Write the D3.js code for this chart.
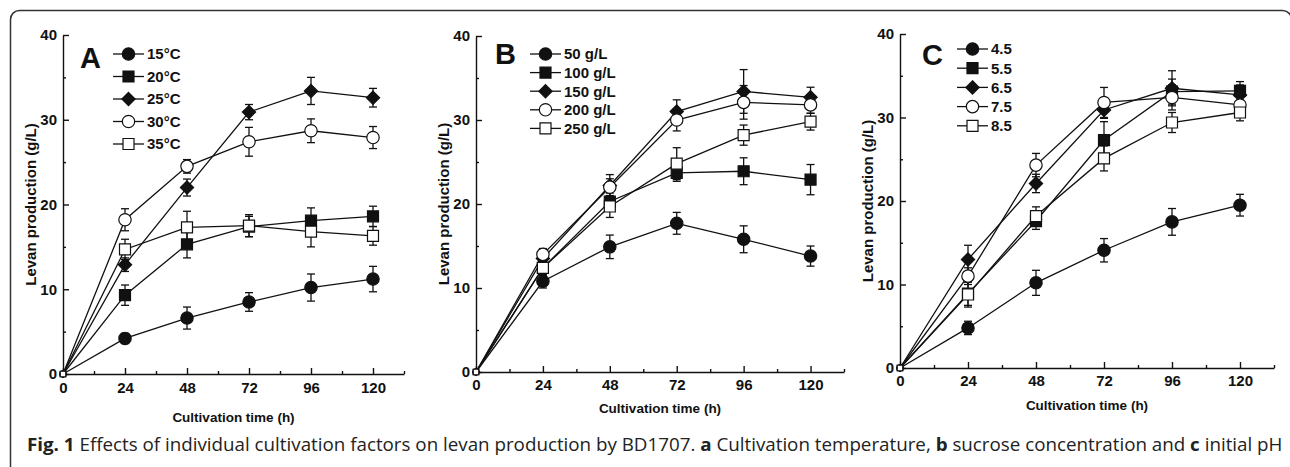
<!DOCTYPE html>
<html>
<head>
<meta charset="utf-8">
<script src="https://cdn.jsdelivr.net/npm/d3@7"></script>
<style>
  body { margin: 0; background: #fff; }
  svg { display: block; }
  .axis path, .axis line { stroke: #111; stroke-width: 1.4px; }
  .axis text { font-family: "Liberation Sans Narrow", "Liberation Sans", Arial, sans-serif; font-weight: bold; font-size: 15px; fill: #111; }
  .title { font-family: "Liberation Sans", Arial, sans-serif; font-weight: bold; font-size: 13.5px; fill: #111; }
  .ytitle { font-size: 15px; }
  .legend text { font-family: "Liberation Sans Narrow", "Liberation Sans", Arial, sans-serif; font-weight: bold; font-size: 15px; fill: #111; }
  .letter { font-family: "Liberation Sans", Arial, sans-serif; font-weight: bold; font-size: 29px; fill: #111; }
  .caption { font-family: "Open Sans", "Noto Sans", sans-serif; font-size: 18px; fill: #222; }
</style>
</head>
<body>
<svg id="fig" width="1290" height="467"></svg>
<script>
// sampling times (h)
const hours = [0, 24, 48, 72, 96, 120];
const xTicks = [0, 24, 48, 72, 96, 120];
const xMinor = [12, 36, 60, 84, 108, 132];
const yTicks = [0, 10, 20, 30, 40];
const yMinor = [5, 15, 25, 35];

// A: cultivation temperature
const tempNames = ["15°C", "20°C", "25°C", "30°C", "35°C"];
const tempMeans = [
  [0, 4.2, 6.6, 8.5, 10.2, 11.2],
  [0, 9.3, 15.3, 17.4, 18.1, 18.6],
  [0, 12.9, 22.0, 30.9, 33.4, 32.6],
  [0, 18.2, 24.5, 27.4, 28.7, 27.9],
  [0, 14.7, 17.3, 17.5, 16.8, 16.3]
];
const tempErr = [
  [0, 0.6, 1.3, 1.1, 1.6, 1.5],
  [0, 1.2, 1.6, 1.2, 1.5, 1.2],
  [0, 0.8, 1.0, 0.9, 1.6, 1.1],
  [0, 1.3, 0.8, 1.7, 1.4, 1.3],
  [0, 1.2, 1.9, 1.3, 1.8, 1.1]
];

// B: sucrose concentration
const sucNames = ["50 g/L", "100 g/L", "150 g/L", "200 g/L", "250 g/L"];
const sucMeans = [
  [0, 10.8, 14.9, 17.7, 15.8, 13.8],
  [0, 12.4, 20.3, 23.7, 23.9, 22.9],
  [0, 13.5, 22.2, 31.0, 33.4, 32.7],
  [0, 14.0, 22.0, 30.0, 32.1, 31.8],
  [0, 12.4, 19.7, 24.8, 28.2, 29.8]
];
const sucErr = [
  [0, 0.8, 1.4, 1.3, 1.6, 1.2],
  [0, 0.9, 1.0, 1.0, 1.6, 1.8],
  [0, 0.8, 1.3, 1.4, 2.6, 1.2],
  [0, 0.7, 1.0, 1.3, 2.0, 1.0],
  [0, 1.4, 1.3, 1.9, 1.2, 1.0]
];

// C: initial pH
const phNames = ["4.5", "5.5", "6.5", "7.5", "8.5"];
const phMeans = [
  [0, 4.8, 10.2, 14.1, 17.5, 19.5],
  [0, 8.9, 17.6, 27.3, 33.1, 33.2],
  [0, 13.0, 22.1, 30.9, 33.5, 32.7],
  [0, 11.0, 24.3, 31.8, 32.4, 31.5],
  [0, 8.8, 18.2, 25.1, 29.4, 30.6]
];
const phErr = [
  [0, 0.8, 1.5, 1.4, 1.6, 1.3],
  [0, 1.4, 1.0, 2.2, 1.5, 1.1],
  [0, 1.7, 1.1, 1.0, 2.1, 1.2],
  [0, 1.0, 1.4, 1.8, 1.5, 1.0],
  [0, 1.5, 1.1, 1.5, 1.2, 1.0]
];

// rotated square, the Origin-style diamond
const symbolRhombus = {
  draw(ctx, size) {
    const r = Math.sqrt(size / 2);
    ctx.moveTo(0, -r); ctx.lineTo(r, 0); ctx.lineTo(0, r); ctx.lineTo(-r, 0); ctx.closePath();
  }
};

// one marker style per series position
const markers = [
  {type: d3.symbolCircle, size: 120, fill: "#111"},
  {type: d3.symbolSquare, size: 121, fill: "#111"},
  {type: symbolRhombus, size: 88, fill: "#111"},
  {type: d3.symbolCircle, size: 120, fill: "#fff"},
  {type: d3.symbolSquare, size: 121, fill: "#fff"}
];

const panels = [
  {letter: "A", names: tempNames, means: tempMeans, errs: tempErr,
   x0: 63, x1: 404, y0: 374, y1: 35, letterX: 80, letterY: 68,
   legX: 113, legY: 54, legStep: 22.5, titleDy: 48, tickPad: 8},
  {letter: "B", names: sucNames, means: sucMeans, errs: sucErr,
   x0: 476, x1: 844, y0: 372, y1: 36, letterX: 495, letterY: 64,
   legX: 530, legY: 54, legStep: 18.6, titleDy: 41, tickPad: 7},
  {letter: "C", names: phNames, means: phMeans, errs: phErr,
   x0: 900, x1: 1274, y0: 368, y1: 34, letterX: 922, letterY: 65,
   legX: 957, legY: 49, legStep: 19.2, titleDy: 42, tickPad: 7}
];

const svg = d3.select("#fig");

// rounded frame around the figure
svg.append("rect")
  .attr("x", 10.5).attr("y", 10.5)
  .attr("width", 1281).attr("height", 520)
  .attr("rx", 9)
  .attr("fill", "none")
  .attr("stroke", "#333")
  .attr("stroke-width", 1.5);

panels.forEach(p => drawPanel(p));

function drawPanel(p) {
  const x = d3.scaleLinear().domain([0, 132]).range([p.x0, p.x1]);
  const y = d3.scaleLinear().domain([0, 40]).range([p.y0, p.y1]);
  const g = svg.append("g");

  // axes, ticks pointing inward
  g.append("g")
    .attr("class", "axis")
    .attr("transform", `translate(0,${p.y0})`)
    .call(d3.axisBottom(x).tickValues(xTicks).tickSizeInner(-6).tickSizeOuter(0).tickPadding(p.tickPad));
  g.append("g")
    .attr("class", "axis")
    .attr("transform", `translate(0,${p.y0})`)
    .call(d3.axisBottom(x).tickValues(xMinor).tickSizeInner(-3).tickSizeOuter(0).tickFormat(""))
    .select(".domain").remove();
  g.append("g")
    .attr("class", "axis")
    .attr("transform", `translate(${p.x0},0)`)
    .call(d3.axisLeft(y).tickValues(yTicks).tickSizeInner(-6).tickSizeOuter(0).tickPadding(6));
  g.append("g")
    .attr("class", "axis")
    .attr("transform", `translate(${p.x0},0)`)
    .call(d3.axisLeft(y).tickValues(yMinor).tickSizeInner(-3).tickSizeOuter(0).tickFormat(""))
    .select(".domain").remove();

  // axis titles
  g.append("text")
    .attr("class", "title")
    .attr("text-anchor", "middle")
    .attr("x", (p.x0 + p.x1) / 2)
    .attr("y", p.y0 + p.titleDy)
    .text("Cultivation time (h)");
  g.append("text")
    .attr("class", "title ytitle")
    .attr("text-anchor", "middle")
    .attr("transform", `translate(${p.x0 - 27},${(p.y0 + p.y1) / 2}) rotate(-90)`)
    .text("Levan production (g/L)");

  g.append("text")
    .attr("class", "letter")
    .attr("x", p.letterX)
    .attr("y", p.letterY)
    .text(p.letter);

  const series = p.means.map((m, i) => ({
    i: i,
    pts: m.map((v, j) => ({t: hours[j], v: v, e: p.errs[i][j]}))
  }));

  const line = d3.line().x(d => x(d.t)).y(d => y(d.v));

  g.selectAll(".series-line")
    .data(series)
    .join("path")
      .attr("class", "series-line")
      .attr("d", d => line(d.pts))
      .attr("fill", "none")
      .attr("stroke", "#111")
      .attr("stroke-width", 1.3);

  // error bars with caps
  const bars = g.selectAll(".err")
    .data(series.flatMap(s => s.pts.filter(d => d.e > 0)))
    .join("g")
      .attr("class", "err")
      .attr("stroke", "#111")
      .attr("stroke-width", 1.3);
  bars.append("line")
    .attr("x1", d => x(d.t)).attr("x2", d => x(d.t))
    .attr("y1", d => y(d.v - d.e)).attr("y2", d => y(d.v + d.e));
  bars.append("line")
    .attr("x1", d => x(d.t) - 4).attr("x2", d => x(d.t) + 4)
    .attr("y1", d => y(d.v + d.e)).attr("y2", d => y(d.v + d.e));
  bars.append("line")
    .attr("x1", d => x(d.t) - 4).attr("x2", d => x(d.t) + 4)
    .attr("y1", d => y(d.v - d.e)).attr("y2", d => y(d.v - d.e));

  // markers (the ones at t = 0 sit mostly under the axes)
  series.forEach(s => {
    const mk = markers[s.i];
    g.selectAll(null)
      .data(s.pts)
      .join("path")
        .attr("transform", d => `translate(${x(d.t)},${y(d.v)})`)
        .attr("d", d => d3.symbol(mk.type, d.t === 0 ? mk.size * 0.25 : mk.size)())
        .attr("fill", mk.fill)
        .attr("stroke", "#111")
        .attr("stroke-width", 1.2);
  });

  // legend
  const leg = g.append("g").attr("class", "legend");
  const rows = leg.selectAll("g")
    .data(p.names)
    .join("g")
      .attr("transform", (d, i) => `translate(${p.legX},${p.legY + i * p.legStep})`);
  rows.append("line")
    .attr("x1", 0).attr("x2", 31)
    .attr("stroke", "#111").attr("stroke-width", 1.3);
  rows.append("path")
    .attr("transform", "translate(15.5,0)")
    .attr("d", (d, i) => d3.symbol(markers[i].type, markers[i].size)())
    .attr("fill", (d, i) => markers[i].fill)
    .attr("stroke", "#111")
    .attr("stroke-width", 1.2);
  rows.append("text")
    .attr("x", 34)
    .attr("dy", "0.36em")
    .text(d => d);
}

// figure caption, squeezed to the reference width
const cap = svg.append("text")
  .attr("class", "caption")
  .attr("x", 0)
  .attr("y", 0);
cap.append("tspan").attr("font-weight", "bold").text("Fig. 1");
cap.append("tspan").text(" Effects of individual cultivation factors on levan production by BD1707. ");
cap.append("tspan").attr("font-weight", "bold").text("a");
cap.append("tspan").text(" Cultivation temperature, ");
cap.append("tspan").attr("font-weight", "bold").text("b");
cap.append("tspan").text(" sucrose concentration and ");
cap.append("tspan").attr("font-weight", "bold").text("c");
cap.append("tspan").text(" initial pH");
const capW = cap.node().getComputedTextLength();
cap.attr("transform", `translate(27,451) scale(${1257 / capW},1)`);
</script>
</body>
</html>
